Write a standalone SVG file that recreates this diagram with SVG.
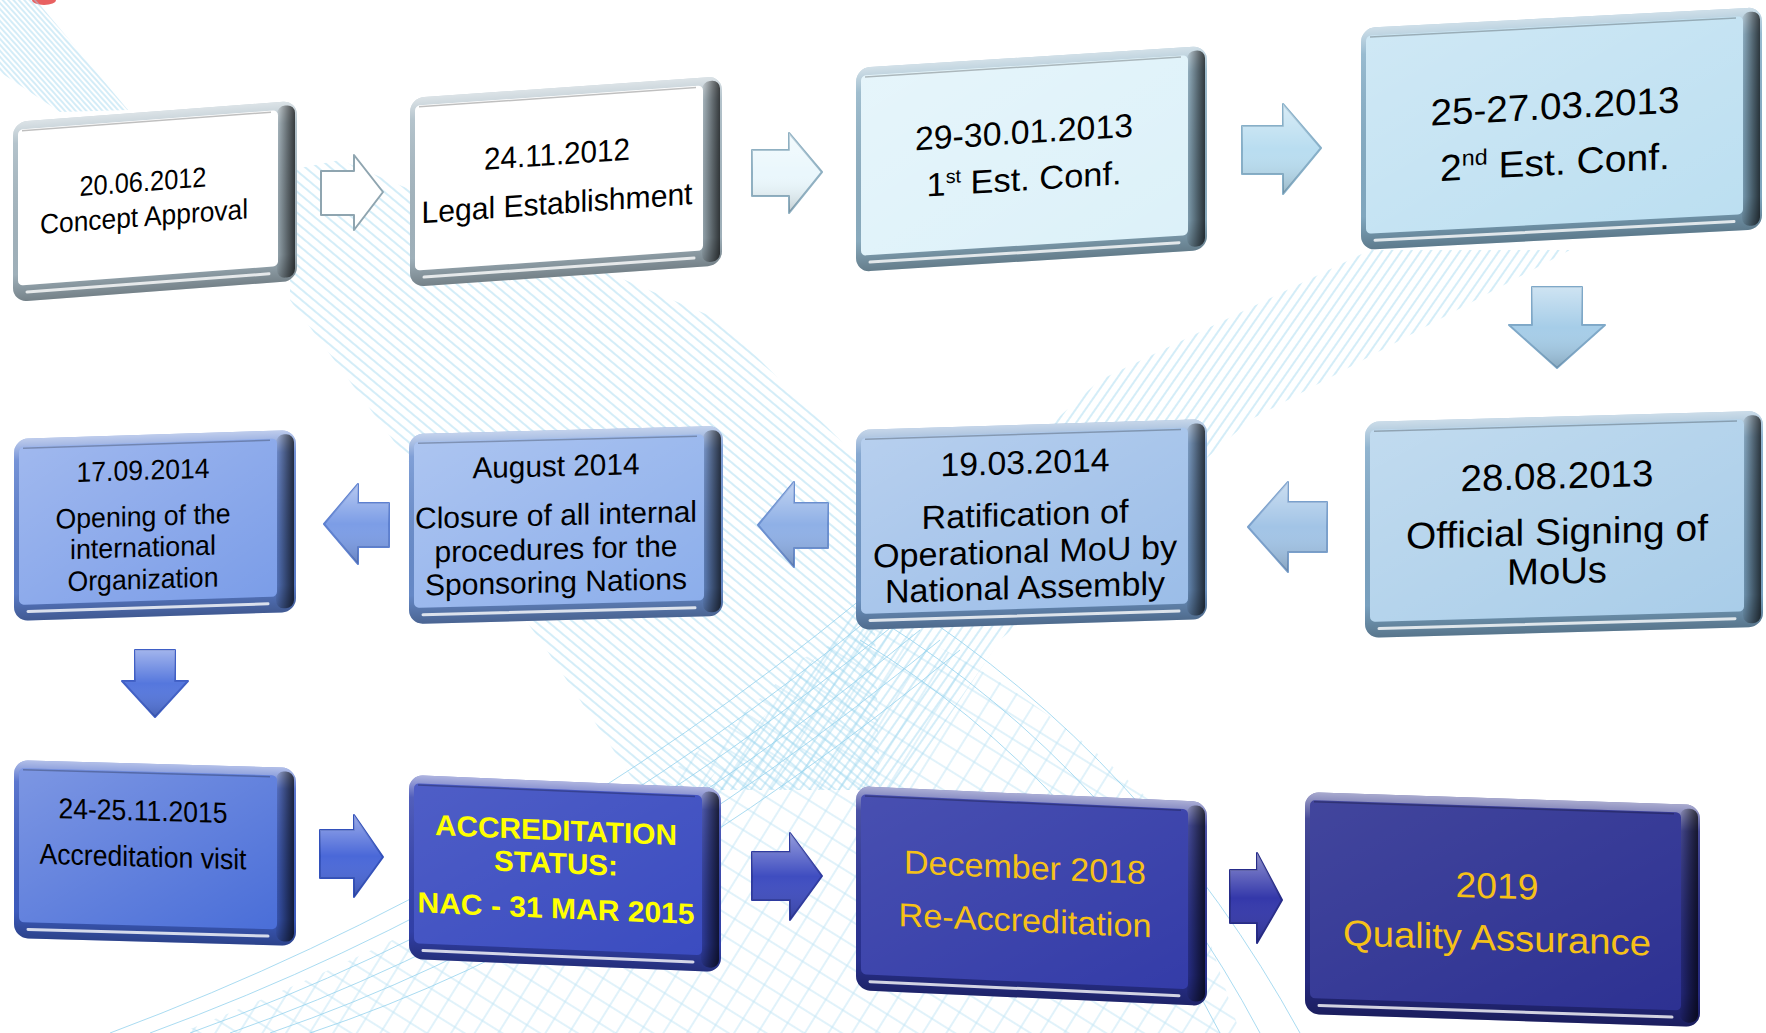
<svg xmlns="http://www.w3.org/2000/svg" width="1766" height="1033" viewBox="0 0 1766 1033">
<style>
.fs{fill:url(#gFS)}
.ed{fill:url(#gED)}
.fc{fill:url(#gFC)}
.tl{fill:none;stroke:#000;stroke-opacity:.25;stroke-width:1.5}
.bl{fill:none;stroke:#fff;stroke-opacity:.8;stroke-width:3;stroke-linecap:round}
.t{font-family:"Liberation Sans",Arial,sans-serif;text-anchor:middle}
.k{fill:#000}
.y{fill:#ffff00;font-weight:bold}
.o{fill:#f6c117}
.bgc{fill:none;stroke:#93d2ee;stroke-width:1;opacity:.8}
.ar{stroke-width:2;stroke-linejoin:round}
.as{fill:url(#gAR)}
</style>
<defs>
<linearGradient id="gFS" x1="0" y1="0" x2="0" y2="1"><stop offset="0" stop-color="#fff" stop-opacity=".6"/><stop offset=".12" stop-color="#fff" stop-opacity=".15"/><stop offset=".85" stop-color="#000" stop-opacity=".05"/><stop offset="1" stop-color="#000" stop-opacity=".3"/></linearGradient>
<linearGradient id="gED" x1="0" y1="0" x2="1" y2="0"><stop offset="0" stop-color="#000" stop-opacity=".05"/><stop offset=".6" stop-color="#000" stop-opacity=".45"/><stop offset="1" stop-color="#000" stop-opacity=".7"/></linearGradient>
<linearGradient id="gFC" x1="0" y1="0" x2="1" y2="1"><stop offset="0" stop-color="#fff" stop-opacity=".28"/><stop offset="1" stop-color="#fff" stop-opacity="0"/></linearGradient>
<linearGradient id="gFCd" x1="0" y1="0" x2="1" y2="1"><stop offset="0" stop-color="#fff" stop-opacity=".1"/><stop offset="1" stop-color="#fff" stop-opacity="0"/></linearGradient>
<linearGradient id="gAR" x1="0" y1="0" x2="0" y2="1"><stop offset="0" stop-color="#fff" stop-opacity=".45"/><stop offset=".5" stop-color="#fff" stop-opacity="0"/><stop offset="1" stop-color="#000" stop-opacity=".18"/></linearGradient>
<pattern id="pA" width="4" height="4" patternUnits="userSpaceOnUse" patternTransform="rotate(48)"><path d="M0,2H4" stroke="#9fd6ee" stroke-width=".9"/></pattern>
<pattern id="pB" width="8" height="8" patternUnits="userSpaceOnUse" patternTransform="rotate(40)"><path d="M0,4H8" stroke="#9ad5ee" stroke-width="1"/></pattern>
<pattern id="pC" width="8" height="8" patternUnits="userSpaceOnUse" patternTransform="rotate(-55)"><path d="M0,4H8" stroke="#9ad5ee" stroke-width="1"/></pattern>
<pattern id="pM" width="20" height="20" patternUnits="userSpaceOnUse" patternTransform="rotate(32)"><path d="M0,10H20M10,0V20" stroke="#9ad5ee" stroke-width="1"/></pattern>
</defs>
<rect width="1766" height="1033" fill="#fff"/>
<g id="background">
<ellipse cx="44" cy="0" rx="12" ry="5" fill="#e23a3a" opacity=".8"/>
<polygon points="0,0 36,0 128,110 60,112 0,72" fill="url(#pA)"/>
<polygon points="290,170 340,160 720,320 870,470 880,790 640,790 540,640 290,300" fill="url(#pB)" opacity=".85"/>
<polygon points="1370,250 1570,250 1250,420 1000,640 900,790 700,790 900,560 1100,380" fill="url(#pC)" opacity=".85"/>
<path d="M180,1033 C440,930 640,820 800,660 L880,620 C980,660 1080,730 1170,820 L1240,1033 Z" fill="url(#pM)" opacity=".6"/>
<path class="bgc" d="M110,1033 Q520,880 860,600"/>
<path class="bgc" d="M150,1033 Q540,890 880,610"/>
<path class="bgc" d="M190,1033 Q560,900 900,620"/>
<path class="bgc" d="M230,1033 Q580,910 920,630"/>
<path class="bgc" d="M270,1033 Q600,920 940,640"/>
<path class="bgc" d="M310,1033 Q620,930 960,650"/>
<path class="bgc" d="M1300,1033 Q1150,760 900,600"/>
<path class="bgc" d="M1260,1033 Q1120,770 880,620"/>
<path class="bgc" d="M1220,1033 Q1090,780 860,640"/>
</g>
<g id="connectors">
<path class="ar" d="M321,171 L354,171 L354,155 L383,192 L354,230 L354,215 L321,215 Z" fill="#fff" stroke="#8fa5b0"/>
<path class="ar" d="M752,150 L789,150 L789,133 L822,172 L789,213 L789,196 L752,196 Z" fill="#eaf7fc" stroke="#8fb0c2"/>
<path class="as" d="M752,150 L789,150 L789,133 L822,172 L789,213 L789,196 L752,196 Z"/>
<path class="ar" d="M1242,126 L1283,126 L1283,104 L1321,148 L1283,194 L1283,174 L1242,174 Z" fill="#b9ddf0" stroke="#86afc8"/>
<path class="as" d="M1242,126 L1283,126 L1283,104 L1321,148 L1283,194 L1283,174 L1242,174 Z"/>
<path class="ar" d="M1532,287 L1582,287 L1582,325 L1605,325 L1557,368 L1509,325 L1532,325 Z" fill="#a6cde8" stroke="#7ea8c8"/>
<path class="as" d="M1532,287 L1582,287 L1582,325 L1605,325 L1557,368 L1509,325 L1532,325 Z"/>
<path class="ar" d="M1327,502 L1288,502 L1288,482 L1248,527 L1288,572 L1288,552 L1327,552 Z" fill="#a2c4e6" stroke="#7aa0cc"/>
<path class="as" d="M1327,502 L1288,502 L1288,482 L1248,527 L1288,572 L1288,552 L1327,552 Z"/>
<path class="ar" d="M828,503 L794,503 L794,482 L758,525 L794,567 L794,548 L828,548 Z" fill="#8fb0e6" stroke="#6a8fd0"/>
<path class="as" d="M828,503 L794,503 L794,482 L758,525 L794,567 L794,548 L828,548 Z"/>
<path class="ar" d="M389,503 L358,503 L358,484 L324,524 L358,564 L358,547 L389,547 Z" fill="#7c9de6" stroke="#5d80d0"/>
<path class="as" d="M389,503 L358,503 L358,484 L324,524 L358,564 L358,547 L389,547 Z"/>
<path class="ar" d="M135,650 L175,650 L175,681 L188,681 L155,717 L122,681 L135,681 Z" fill="#5577dd" stroke="#3f5fc6"/>
<path class="as" d="M135,650 L175,650 L175,681 L188,681 L155,717 L122,681 L135,681 Z"/>
<path class="ar" d="M320,830 L354,830 L354,815 L383,857 L354,897 L354,878 L320,878 Z" fill="#4a68d8" stroke="#3250bb"/>
<path class="as" d="M320,830 L354,830 L354,815 L383,857 L354,897 L354,878 L320,878 Z"/>
<path class="ar" d="M752,852 L790,852 L790,833 L822,876 L790,920 L790,900 L752,900 Z" fill="#3f4dc0" stroke="#2e3aa0"/>
<path class="as" d="M752,852 L790,852 L790,833 L822,876 L790,920 L790,900 L752,900 Z"/>
<path class="ar" d="M1230,870 L1257,870 L1257,853 L1282,900 L1257,943 L1257,923 L1230,923 Z" fill="#3438aa" stroke="#262b8a"/>
<path class="as" d="M1230,870 L1257,870 L1257,853 L1282,900 L1257,943 L1257,923 L1230,923 Z"/>
</g>
<g id="n1" transform="matrix(1,-0.075,0,1,13,122)">
<rect width="284" height="180" rx="14" fill="#a7b9c3"/><rect width="284" height="180" rx="14" class="fs"/>
<rect x="264" y="4" width="18" height="172" rx="8" class="ed"/>
<rect x="5" y="8" width="260" height="156" rx="5" fill="#fff"/><rect x="5" y="8" width="260" height="156" rx="5" class="fc"/>
<path d="M9,9.5H258" class="tl"/><path d="M14,171H256" class="bl"/>
<text class="t k" x="130" y="79" font-size="28" textLength="127" lengthAdjust="spacingAndGlyphs">20.06.2012</text>
<text class="t k" x="131" y="114" font-size="28" textLength="208" lengthAdjust="spacingAndGlyphs">Concept Approval</text>
</g>
<g id="n2" transform="matrix(1,-0.07,0,1,410,98)">
<rect width="312" height="189" rx="14" fill="#a7b9c3"/><rect width="312" height="189" rx="14" class="fs"/>
<rect x="292" y="4" width="18" height="181" rx="8" class="ed"/>
<rect x="5" y="8" width="288" height="165" rx="5" fill="#fff"/><rect x="5" y="8" width="288" height="165" rx="5" class="fc"/>
<path d="M9,9.5H286" class="tl"/><path d="M14,180H284" class="bl"/>
<text class="t k" x="147" y="77" font-size="31" textLength="146" lengthAdjust="spacingAndGlyphs">24.11.2012</text>
<text class="t k" x="147" y="126" font-size="31" textLength="271" lengthAdjust="spacingAndGlyphs">Legal Establishment</text>
</g>
<g id="n3" transform="matrix(1,-0.063,0,1,856,68)">
<rect width="351" height="204" rx="14" fill="#8fb2c6"/><rect width="351" height="204" rx="14" class="fs"/>
<rect x="331" y="4" width="18" height="196" rx="8" class="ed"/>
<rect x="5" y="8" width="327" height="180" rx="5" fill="#dcf1f9"/><rect x="5" y="8" width="327" height="180" rx="5" class="fc"/>
<path d="M9,9.5H325" class="tl"/><path d="M14,195H323" class="bl"/>
<text class="t k" x="168" y="86" font-size="33" textLength="218" lengthAdjust="spacingAndGlyphs">29-30.01.2013</text>
<text class="t k" x="168" y="133" font-size="33" textLength="195" lengthAdjust="spacingAndGlyphs">1<tspan dy="-12" font-size="19">st</tspan><tspan dy="12"> Est. Conf.</tspan></text>
</g>
<g id="n4" transform="matrix(1,-0.052,0,1,1361,28)">
<rect width="401" height="222" rx="14" fill="#86afc8"/><rect width="401" height="222" rx="14" class="fs"/>
<rect x="381" y="4" width="18" height="214" rx="8" class="ed"/>
<rect x="5" y="8" width="377" height="198" rx="5" fill="#bcdff1"/><rect x="5" y="8" width="377" height="198" rx="5" class="fc"/>
<path d="M9,9.5H375" class="tl"/><path d="M14,213H373" class="bl"/>
<text class="t k" x="194" y="101" font-size="37" textLength="249" lengthAdjust="spacingAndGlyphs">25-27.03.2013</text>
<text class="t k" x="194" y="157" font-size="37" textLength="230" lengthAdjust="spacingAndGlyphs">2<tspan dy="-14" font-size="22">nd</tspan><tspan dy="14"> Est. Conf.</tspan></text>
</g>
<g id="n5" transform="matrix(1,-0.028,0,1,1365,422)">
<rect width="398" height="216" rx="14" fill="#7ea8c8"/><rect width="398" height="216" rx="14" class="fs"/>
<rect x="378" y="4" width="18" height="208" rx="8" class="ed"/>
<rect x="5" y="8" width="374" height="192" rx="5" fill="#a9cde9"/><rect x="5" y="8" width="374" height="192" rx="5" class="fc"/>
<path d="M9,9.5H372" class="tl"/><path d="M14,207H370" class="bl"/>
<text class="t k" x="192" y="72" font-size="37" textLength="193" lengthAdjust="spacingAndGlyphs">28.08.2013</text>
<text class="t k" x="192" y="128" font-size="37" textLength="302" lengthAdjust="spacingAndGlyphs">Official Signing of</text>
<text class="t k" x="192" y="167" font-size="37" textLength="100" lengthAdjust="spacingAndGlyphs">MoUs</text>
</g>
<g id="n6" transform="matrix(1,-0.031,0,1,856,430)">
<rect width="351" height="200" rx="14" fill="#7199c9"/><rect width="351" height="200" rx="14" class="fs"/>
<rect x="331" y="4" width="18" height="192" rx="8" class="ed"/>
<rect x="5" y="8" width="327" height="176" rx="5" fill="#9bbde8"/><rect x="5" y="8" width="327" height="176" rx="5" class="fc"/>
<path d="M9,9.5H325" class="tl"/><path d="M14,191H323" class="bl"/>
<text class="t k" x="169" y="49" font-size="33" textLength="169" lengthAdjust="spacingAndGlyphs">19.03.2014</text>
<text class="t k" x="169" y="101" font-size="33" textLength="207" lengthAdjust="spacingAndGlyphs">Ratification of</text>
<text class="t k" x="169" y="138" font-size="33" textLength="304" lengthAdjust="spacingAndGlyphs">Operational MoU by</text>
<text class="t k" x="169" y="174" font-size="33" textLength="280" lengthAdjust="spacingAndGlyphs">National Assembly</text>
</g>
<g id="n7" transform="matrix(1,-0.0255,0,1,409,434)">
<rect width="314" height="190" rx="14" fill="#6a8fd0"/><rect width="314" height="190" rx="14" class="fs"/>
<rect x="294" y="4" width="18" height="182" rx="8" class="ed"/>
<rect x="5" y="8" width="290" height="166" rx="5" fill="#8caeeb"/><rect x="5" y="8" width="290" height="166" rx="5" class="fc"/>
<path d="M9,9.5H288" class="tl"/><path d="M14,181H286" class="bl"/>
<text class="t k" x="147" y="46" font-size="30" textLength="167" lengthAdjust="spacingAndGlyphs">August 2014</text>
<text class="t k" x="147" y="95" font-size="30" textLength="282" lengthAdjust="spacingAndGlyphs">Closure of all internal</text>
<text class="t k" x="147" y="129" font-size="30" textLength="243" lengthAdjust="spacingAndGlyphs">procedures for the</text>
<text class="t k" x="147" y="162" font-size="30" textLength="262" lengthAdjust="spacingAndGlyphs">Sponsoring Nations</text>
</g>
<g id="n8" transform="matrix(1,-0.032,0,1,14,439)">
<rect width="282" height="182" rx="14" fill="#5d80d0"/><rect width="282" height="182" rx="14" class="fs"/>
<rect x="262" y="4" width="18" height="174" rx="8" class="ed"/>
<rect x="5" y="8" width="258" height="158" rx="5" fill="#7b9de8"/><rect x="5" y="8" width="258" height="158" rx="5" class="fc"/>
<path d="M9,9.5H256" class="tl"/><path d="M14,173H254" class="bl"/>
<text class="t k" x="129" y="45" font-size="28" textLength="133" lengthAdjust="spacingAndGlyphs">17.09.2014</text>
<text class="t k" x="129" y="91" font-size="28" textLength="175" lengthAdjust="spacingAndGlyphs">Opening of the</text>
<text class="t k" x="129" y="122" font-size="28" textLength="146" lengthAdjust="spacingAndGlyphs">international</text>
<text class="t k" x="129" y="154" font-size="28" textLength="151" lengthAdjust="spacingAndGlyphs">Organization</text>
</g>
<g id="n9" transform="matrix(1,0.028,0,1,14,760)">
<rect width="282" height="178" rx="14" fill="#3f5fc6"/><rect width="282" height="178" rx="14" class="fs"/>
<rect x="262" y="4" width="18" height="170" rx="8" class="ed"/>
<rect x="5" y="8" width="258" height="154" rx="5" fill="#4a6ed8"/><rect x="5" y="8" width="258" height="154" rx="5" class="fc"/>
<path d="M9,9.5H256" class="tl"/><path d="M14,169H254" class="bl"/>
<text class="t k" x="129" y="57" font-size="29" textLength="169" lengthAdjust="spacingAndGlyphs">24-25.11.2015</text>
<text class="t k" x="129" y="103" font-size="29" textLength="207" lengthAdjust="spacingAndGlyphs">Accreditation visit</text>
</g>
<g id="n10" transform="matrix(1,0.042,0,1,409,775)">
<rect width="312" height="184" rx="14" fill="#3443b0"/><rect width="312" height="184" rx="14" class="fs"/>
<rect x="292" y="4" width="18" height="176" rx="8" class="ed"/>
<rect x="5" y="8" width="288" height="160" rx="5" fill="#3b4cc0"/><rect x="5" y="8" width="288" height="160" rx="5" style="fill:url(#gFCd)"/>
<path d="M9,9.5H286" class="tl"/><path d="M14,175H284" class="bl"/>
<text class="t y" x="147" y="59" font-size="29" textLength="242" lengthAdjust="spacingAndGlyphs">ACCREDITATION</text>
<text class="t y" x="147" y="92" font-size="29" textLength="124" lengthAdjust="spacingAndGlyphs">STATUS:</text>
<text class="t y" x="147" y="137" font-size="29" textLength="277" lengthAdjust="spacingAndGlyphs">NAC - 31 MAR 2015</text>
</g>
<g id="n11" transform="matrix(1,0.0456,0,1,856,786)">
<rect width="351" height="204" rx="14" fill="#2b3396"/><rect width="351" height="204" rx="14" class="fs"/>
<rect x="331" y="4" width="18" height="196" rx="8" class="ed"/>
<rect x="5" y="8" width="327" height="180" rx="5" fill="#343ca8"/><rect x="5" y="8" width="327" height="180" rx="5" style="fill:url(#gFCd)"/>
<path d="M9,9.5H325" class="tl"/><path d="M14,195H323" class="bl"/>
<text class="t o" x="169" y="85" font-size="33" textLength="242" lengthAdjust="spacingAndGlyphs">December 2018</text>
<text class="t o" x="169" y="138" font-size="33" textLength="253" lengthAdjust="spacingAndGlyphs">Re-Accreditation</text>
</g>
<g id="n12" transform="matrix(1,0.033,0,1,1305,792)">
<rect width="395" height="222" rx="14" fill="#272b86"/><rect width="395" height="222" rx="14" class="fs"/>
<rect x="375" y="4" width="18" height="214" rx="8" class="ed"/>
<rect x="5" y="8" width="371" height="198" rx="5" fill="#2d3192"/><rect x="5" y="8" width="371" height="198" rx="5" style="fill:url(#gFCd)"/>
<path d="M9,9.5H369" class="tl"/><path d="M14,213H367" class="bl"/>
<text class="t o" x="192" y="100" font-size="36" textLength="83" lengthAdjust="spacingAndGlyphs">2019</text>
<text class="t o" x="192" y="152" font-size="36" textLength="308" lengthAdjust="spacingAndGlyphs">Quality Assurance</text>
</g>
</svg>
